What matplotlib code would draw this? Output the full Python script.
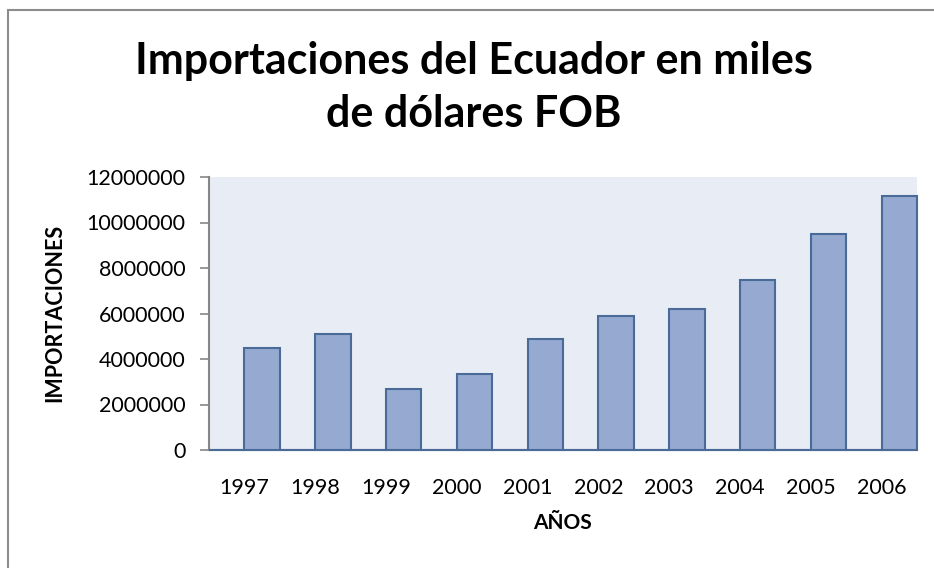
import matplotlib.pyplot as plt
import numpy as np
from matplotlib.patches import Rectangle

years = ['1997', '1998', '1999', '2000', '2001', '2002', '2003', '2004', '2005', '2006']
imports = [4490000, 5090000, 2690000, 3340000, 4870000, 5910000, 6190000, 7460000, 9510000, 11150000]
blank = [0] * len(years)  # empty first series, shows as a line at zero
yticks = [0, 2000000, 4000000, 6000000, 8000000, 10000000, 12000000]

fig = plt.figure(figsize=(9.34, 5.68), dpi=100)
ax = fig.add_axes([209 / 934, 118 / 568, 708 / 934, 273 / 568])
ax.set_facecolor('#e8edf5')

x = np.arange(len(years))
ax.bar(x - 0.25, blank, width=0.5, color='#95a9d1', edgecolor='#4a6a98', linewidth=1.5,
       zorder=3, clip_on=False)
ax.bar(x + 0.25, imports, width=0.5, color='#95a9d1', edgecolor='#4a6a98', linewidth=1.5,
       zorder=3, clip_on=False)

ax.set_xlim(-0.5, len(years) - 0.5)
ax.set_ylim(0, 12000000)
ax.set_yticks(yticks)
ax.set_yticklabels([str(v) for v in yticks], fontsize=15.5, family='Lato')
ax.set_xticks(x)
ax.set_xticklabels(years, fontsize=15.5, family='Lato')
ax.tick_params(axis='x', length=0, pad=20)
ax.tick_params(axis='y', length=6.5, width=1.2, color='#868686', pad=10.5)

for side in ['top', 'right']:
    ax.spines[side].set_visible(False)
for side in ['left', 'bottom']:
    ax.spines[side].set_color('#868686')
    ax.spines[side].set_linewidth(1.5)

ax.set_xlabel('AÑOS', fontsize=15, fontweight='bold', family='Lato', va='center')
ax.xaxis.set_label_coords(0.4986, -0.267)
ax.set_ylabel('IMPORTACIONES', fontsize=15.5, fontweight='bold', family='Lato', va='center')
ax.yaxis.set_label_coords(-0.2175, 0.5037)

fig.text(474 / 934, 1 - 74 / 568, 'Importaciones del Ecuador en miles',
         ha='center', va='baseline', fontsize=31, fontweight='bold', family='Lato')
fig.text(474 / 934, 1 - 127 / 568, 'de dólares FOB',
         ha='center', va='baseline', fontsize=31, fontweight='bold', family='Lato')

# chart frame (only top/left edge visible in the crop)
fig.patches.append(Rectangle((8 / 934, -0.1), 1.2, (558 / 568) + 0.1, transform=fig.transFigure,
                             fill=False, edgecolor='#8c8c8c', linewidth=1.5))

fig.savefig('out.png', dpi=100)
